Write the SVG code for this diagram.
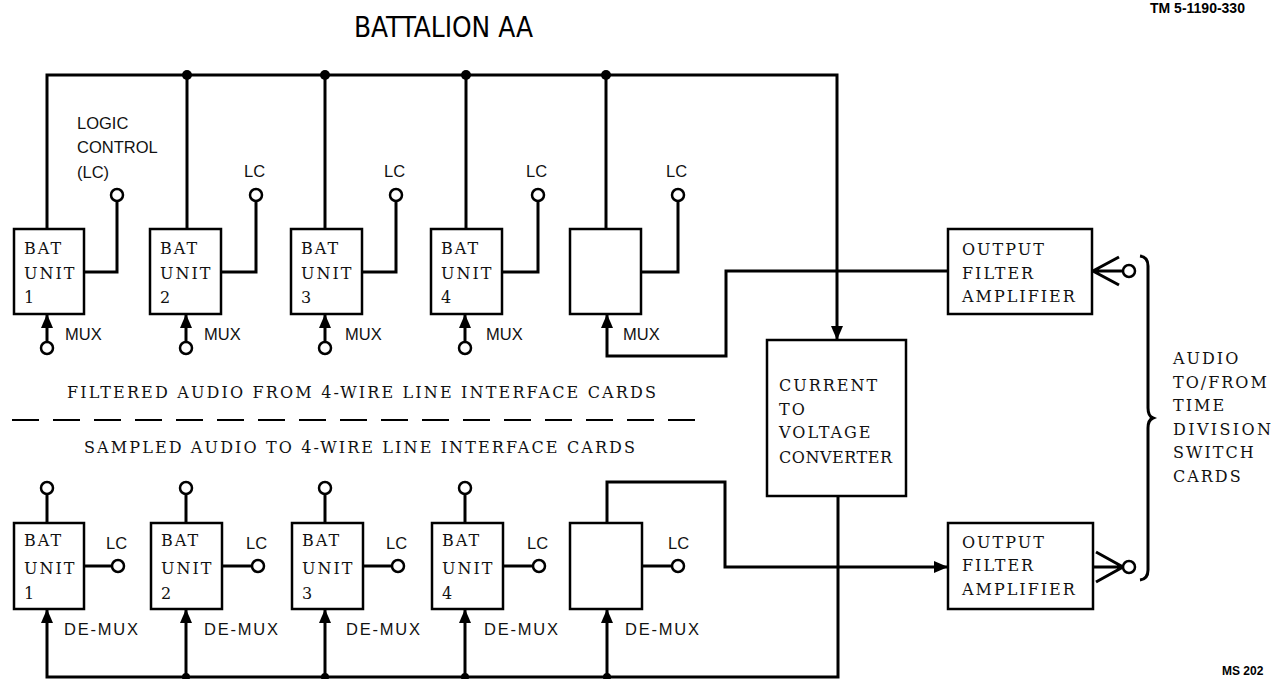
<svg xmlns="http://www.w3.org/2000/svg" width="1276" height="679" viewBox="0 0 1276 679">
<style>
.bx{fill:#fff;stroke:#000;stroke-width:2.5}
.ln{fill:none;stroke:#000;stroke-width:3;stroke-linejoin:miter}
.ci{fill:#fff;stroke:#000;stroke-width:2.5}
.dot{fill:#000}
.tw{font-family:"DejaVu Serif","Liberation Serif",serif;font-size:16px;letter-spacing:2px;fill:#111}
.sm{font-family:"Liberation Sans","DejaVu Sans",sans-serif;font-size:16.5px;fill:#111}
.ttl{font-family:"DejaVu Sans Condensed","Liberation Sans",sans-serif;font-size:28px;fill:#000}
.bold{font-family:"Liberation Sans","DejaVu Sans",sans-serif;font-weight:bold;fill:#000}
</style>
<defs>
<marker id="ah" markerWidth="14" markerHeight="12" refX="14" refY="6" orient="auto" markerUnits="userSpaceOnUse">
<path d="M0,0 L14,6 L0,12 z" fill="#000"/>
</marker>
</defs>
<rect width="1276" height="679" fill="#fff"/>

<g id="labels">
<text class="ttl" x="354" y="37" textLength="179" lengthAdjust="spacingAndGlyphs">BATTALION AA</text>
<text class="bold" x="1150" y="13" font-size="14">TM 5-1190-330</text>
<text class="bold" x="1222" y="675" font-size="12">MS 202</text>
<text class="sm" x="77" y="129">LOGIC</text>
<text class="sm" x="77" y="153">CONTROL</text>
<text class="sm" x="77" y="178">(LC)</text>
<text class="tw" x="67" y="398" textLength="591" lengthAdjust="spacing">FILTERED AUDIO FROM 4-WIRE LINE INTERFACE CARDS</text>
<text class="tw" x="84" y="453" textLength="553" lengthAdjust="spacing">SAMPLED AUDIO TO 4-WIRE LINE INTERFACE CARDS</text>
<line x1="12" y1="420" x2="707" y2="420" stroke="#000" stroke-width="2" stroke-dasharray="27,14"/>
<text class="tw" x="1173" y="364">AUDIO</text>
<text class="tw" x="1173" y="388">TO/FROM</text>
<text class="tw" x="1173" y="411">TIME</text>
<text class="tw" x="1173" y="435" textLength="100" lengthAdjust="spacing">DIVISION</text>
<text class="tw" x="1173" y="458">SWITCH</text>
<text class="tw" x="1173" y="482">CARDS</text>
</g>

<g id="connectors">
<path class="ln" d="M47,229 V75 H837 V340" marker-end="url(#ah)"/>
<line class="ln" x1="187" y1="75" x2="187" y2="229"/>
<line class="ln" x1="325" y1="75" x2="325" y2="229"/>
<line class="ln" x1="466" y1="75" x2="466" y2="229"/>
<line class="ln" x1="606" y1="75" x2="606" y2="229"/>
<circle class="dot" cx="187" cy="75" r="5"/>
<circle class="dot" cx="325" cy="75" r="5"/>
<circle class="dot" cx="466" cy="75" r="5"/>
<circle class="dot" cx="606" cy="75" r="5"/>
<path class="ln" d="M84,272 H117 V201"/>
<path class="ln" d="M221,272 H256 V201"/>
<path class="ln" d="M362,272 H396 V201"/>
<path class="ln" d="M502,272 H538 V201"/>
<path class="ln" d="M641,272 H678 V201"/>
<line class="ln" x1="47" y1="342" x2="47" y2="314" marker-end="url(#ah)"/>
<line class="ln" x1="186" y1="342" x2="186" y2="314" marker-end="url(#ah)"/>
<line class="ln" x1="325" y1="342" x2="325" y2="314" marker-end="url(#ah)"/>
<line class="ln" x1="465" y1="342" x2="465" y2="314" marker-end="url(#ah)"/>
<path class="ln" d="M948,271 H726 V356 H607 V314" marker-end="url(#ah)"/>
<line class="ln" x1="47" y1="494" x2="47" y2="523"/>
<line class="ln" x1="186" y1="494" x2="186" y2="523"/>
<line class="ln" x1="325" y1="494" x2="325" y2="523"/>
<line class="ln" x1="465" y1="494" x2="465" y2="523"/>
<line class="ln" x1="84" y1="566" x2="112" y2="566"/>
<line class="ln" x1="222" y1="566" x2="252" y2="566"/>
<line class="ln" x1="363" y1="566" x2="392" y2="566"/>
<line class="ln" x1="503" y1="566" x2="533" y2="566"/>
<line class="ln" x1="642" y1="566" x2="672" y2="566"/>
<path class="ln" d="M607,523 V482 H725 V567 H948" marker-end="url(#ah)"/>
<path class="ln" d="M838,496 V677 H47 V609" marker-end="url(#ah)"/>
<line class="ln" x1="186" y1="677" x2="186" y2="609" marker-end="url(#ah)"/>
<line class="ln" x1="325" y1="677" x2="325" y2="609" marker-end="url(#ah)"/>
<line class="ln" x1="465" y1="677" x2="465" y2="609" marker-end="url(#ah)"/>
<line class="ln" x1="607" y1="677" x2="607" y2="609" marker-end="url(#ah)"/>
<circle class="dot" cx="186" cy="677" r="4"/>
<circle class="dot" cx="325" cy="677" r="4"/>
<circle class="dot" cx="465" cy="677" r="4"/>
<circle class="dot" cx="607" cy="677" r="4"/>
<path class="ln" d="M1119,257 L1093,271 L1119,285 M1093,271 H1123"/>
<path class="ln" d="M1096,552 L1123,567 L1096,582 M1093,567 H1123"/>
<circle class="ci" cx="1129" cy="271" r="6"/>
<circle class="ci" cx="1129" cy="567" r="6"/>
<path class="ln" d="M1140,256 Q1148,257 1148,266 L1148,408 Q1148,416 1153,418 Q1148,420 1148,428 L1148,570 Q1148,579 1140,580"/>
<circle class="ci" cx="117" cy="195" r="6"/>
<circle class="ci" cx="256" cy="195" r="6"/>
<circle class="ci" cx="396" cy="195" r="6"/>
<circle class="ci" cx="538" cy="195" r="6"/>
<circle class="ci" cx="678" cy="195" r="6"/>
<circle class="ci" cx="47" cy="348" r="6"/>
<circle class="ci" cx="186" cy="348" r="6"/>
<circle class="ci" cx="325" cy="348" r="6"/>
<circle class="ci" cx="465" cy="348" r="6"/>
<circle class="ci" cx="47" cy="488" r="6"/>
<circle class="ci" cx="186" cy="488" r="6"/>
<circle class="ci" cx="325" cy="488" r="6"/>
<circle class="ci" cx="465" cy="488" r="6"/>
<circle class="ci" cx="118" cy="566" r="6"/>
<circle class="ci" cx="258" cy="566" r="6"/>
<circle class="ci" cx="398" cy="566" r="6"/>
<circle class="ci" cx="539" cy="566" r="6"/>
<circle class="ci" cx="678" cy="566" r="6"/>
<text class="sm" x="244" y="177">LC</text>
<text class="sm" x="384" y="177">LC</text>
<text class="sm" x="526" y="177">LC</text>
<text class="sm" x="666" y="177">LC</text>
<text class="sm" x="65" y="340">MUX</text>
<text class="sm" x="204" y="340">MUX</text>
<text class="sm" x="345" y="340">MUX</text>
<text class="sm" x="486" y="340">MUX</text>
<text class="sm" x="623" y="340">MUX</text>
<text class="sm" x="106" y="549">LC</text>
<text class="sm" x="246" y="549">LC</text>
<text class="sm" x="386" y="549">LC</text>
<text class="sm" x="527" y="549">LC</text>
<text class="sm" x="668" y="549">LC</text>
<text class="sm" x="64" y="635" textLength="74" lengthAdjust="spacing">DE-MUX</text>
<text class="sm" x="204" y="635" textLength="74" lengthAdjust="spacing">DE-MUX</text>
<text class="sm" x="346" y="635" textLength="74" lengthAdjust="spacing">DE-MUX</text>
<text class="sm" x="484" y="635" textLength="74" lengthAdjust="spacing">DE-MUX</text>
<text class="sm" x="625" y="635" textLength="74" lengthAdjust="spacing">DE-MUX</text>
</g>

<g id="mux1"><rect class="bx" x="14" y="229" width="70" height="85"/><text class="tw" x="24" y="254">BAT</text><text class="tw" x="24" y="279">UNIT</text><text class="tw" x="24" y="303">1</text></g>
<g id="mux2"><rect class="bx" x="150" y="229" width="71" height="85"/><text class="tw" x="160" y="254">BAT</text><text class="tw" x="160" y="279">UNIT</text><text class="tw" x="160" y="303">2</text></g>
<g id="mux3"><rect class="bx" x="291" y="229" width="71" height="85"/><text class="tw" x="301" y="254">BAT</text><text class="tw" x="301" y="279">UNIT</text><text class="tw" x="301" y="303">3</text></g>
<g id="mux4"><rect class="bx" x="431" y="229" width="71" height="85"/><text class="tw" x="441" y="254">BAT</text><text class="tw" x="441" y="279">UNIT</text><text class="tw" x="441" y="303">4</text></g>
<g id="mux5"><rect class="bx" x="570" y="229" width="71" height="85"/></g>

<g id="demux1"><rect class="bx" x="14" y="523" width="70" height="86"/><text class="tw" x="24" y="546">BAT</text><text class="tw" x="24" y="574">UNIT</text><text class="tw" x="24" y="599">1</text></g>
<g id="demux2"><rect class="bx" x="151" y="523" width="71" height="86"/><text class="tw" x="161" y="546">BAT</text><text class="tw" x="161" y="574">UNIT</text><text class="tw" x="161" y="599">2</text></g>
<g id="demux3"><rect class="bx" x="292" y="523" width="71" height="86"/><text class="tw" x="302" y="546">BAT</text><text class="tw" x="302" y="574">UNIT</text><text class="tw" x="302" y="599">3</text></g>
<g id="demux4"><rect class="bx" x="432" y="523" width="71" height="86"/><text class="tw" x="442" y="546">BAT</text><text class="tw" x="442" y="574">UNIT</text><text class="tw" x="442" y="599">4</text></g>
<g id="demux5"><rect class="bx" x="570" y="523" width="72" height="86"/></g>

<g id="converter"><rect class="bx" x="767" y="340" width="139" height="156"/><text class="tw" x="779" y="391">CURRENT</text><text class="tw" x="779" y="415">TO</text><text class="tw" x="779" y="438">VOLTAGE</text><text class="tw" x="779" y="463" textLength="115" lengthAdjust="spacing">CONVERTER</text></g>

<g id="ofa-upper"><rect class="bx" x="948" y="229" width="144" height="85"/><text class="tw" x="962" y="255">OUTPUT</text><text class="tw" x="962" y="279">FILTER</text><text class="tw" x="962" y="302">AMPLIFIER</text></g>
<g id="ofa-lower"><rect class="bx" x="948" y="523" width="145" height="86"/><text class="tw" x="962" y="548">OUTPUT</text><text class="tw" x="962" y="571">FILTER</text><text class="tw" x="962" y="595">AMPLIFIER</text></g>
</svg>
